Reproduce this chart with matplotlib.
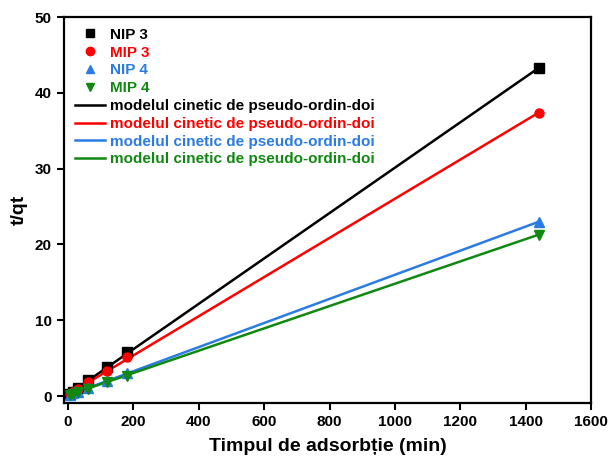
import numpy as np
import matplotlib.pyplot as plt
from matplotlib.lines import Line2D

plt.rcParams['font.family'] = ['Liberation Sans', 'DejaVu Sans']
plt.rcParams['font.weight'] = 'bold'

# data: t (min) vs t/qt
t = [5, 15, 30, 60, 120, 180, 1440]
nip3 = [0.3, 0.6, 1.1, 2.1, 3.9, 5.8, 43.3]
mip3 = [0.25, 0.5, 1.0, 1.9, 3.3, 5.1, 37.4]
nip4 = [0.15, 0.35, 0.6, 1.1, 2.0, 3.0, 23.0]
mip4 = [0.1, 0.3, 0.5, 1.0, 1.8, 2.7, 21.3]

# pseudo-second-order fit lines (endpoints)
fit_t = [0, 1440]
fit_nip3 = [0.2, 43.3]
fit_mip3 = [0.2, 37.4]
fit_nip4 = [0.1, 23.0]
fit_mip4 = [0.1, 21.3]

labels = ['NIP 3', 'MIP 3', 'NIP 4', 'MIP 4']
colors = ['#000000', '#ff0000', '#2a7be4', '#118811']
markers = ['s', 'o', '^', 'v']
fit_label = 'modelul cinetic de pseudo-ordin-doi'

fig = plt.figure(figsize=(6.1, 4.61), dpi=100)
ax = fig.add_axes([0.105, 0.126, 0.864, 0.837])

series = [nip3, mip3, nip4, mip4]
fits = [fit_nip3, fit_mip3, fit_nip4, fit_mip4]
for y, f, c, m in zip(series, fits, colors, markers):
    ax.plot(fit_t, f, color=c, lw=1.8, zorder=2)
    ax.plot(t, y, m, color=c, ms=6.5, zorder=3)

ax.set_xlim(-12, 1600)
ax.set_ylim(-0.9, 50)
ax.set_xticks(np.arange(0, 1601, 200))
ax.set_yticks(np.arange(0, 51, 10))
ax.tick_params(direction='out', length=5, width=1.5, labelsize=11, pad=4)
for s in ax.spines.values():
    s.set_linewidth(1.6)
ax.set_xlabel('Timpul de adsorbție (min)', fontsize=14, fontweight='bold', labelpad=6)
ax.set_ylabel('t/qt', fontsize=14, fontweight='bold', labelpad=5)

handles = [Line2D([], [], ls='none', marker=m, color=c, ms=6) for m, c in zip(markers, colors)]
handles += [Line2D([], [], color=c, lw=1.8) for c in colors]
leg = ax.legend(handles, labels + [fit_label] * 4, loc='upper left', frameon=False,
                fontsize=11, handlelength=2.0, handletextpad=0.3, labelspacing=0.25,
                borderaxespad=0.3)
for txt, c in zip(leg.get_texts(), colors + colors):
    txt.set_color(c)

fig.savefig('out.png', dpi=100)
